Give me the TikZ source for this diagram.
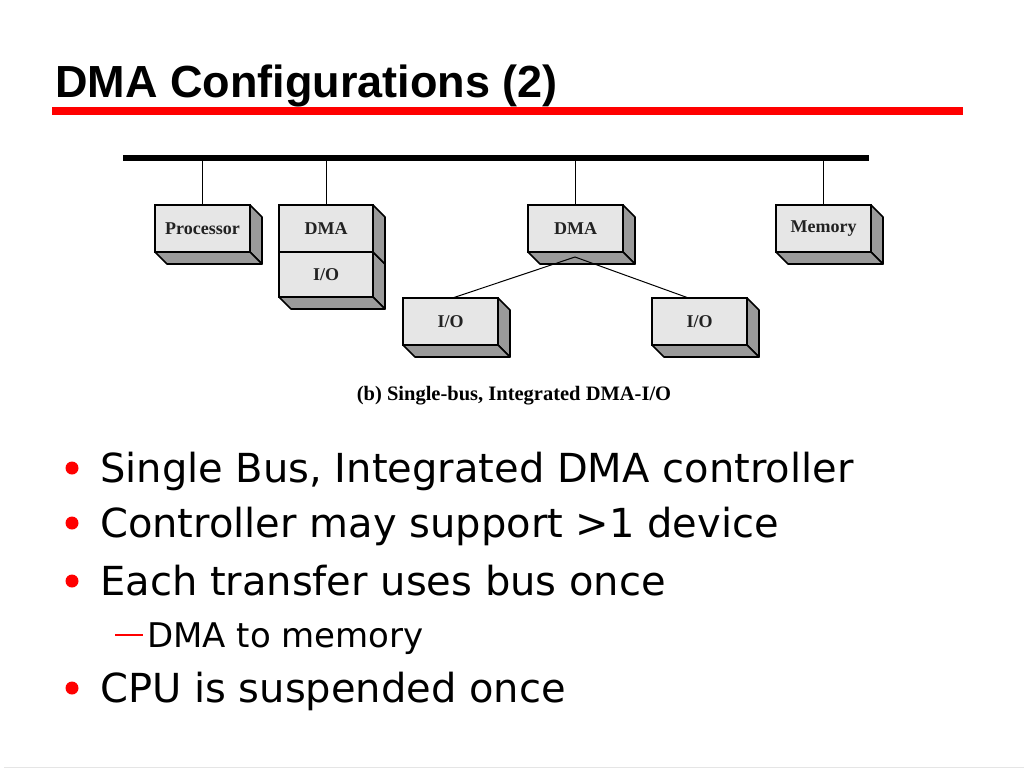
\documentclass[tikz,border=0pt]{standalone}
\usepackage{fontspec}
\setmainfont{DejaVu Sans}
\newfontfamily\titlefont{Liberation Sans}
\newfontfamily\timesf{Liberation Serif}
\usetikzlibrary{calc}
\definecolor{frontgray}{HTML}{E6E6E6}
\definecolor{sidegray}{HTML}{9A9A9A}
\definecolor{slidered}{HTML}{FF0000}
\definecolor{labelgray}{HTML}{222222}
\tikzset{
  box3d/.style={draw=black,line width=1.6pt,fill=frontgray,outer sep=0pt,inner sep=0pt,
    minimum width=95pt,minimum height=47pt,text=labelgray,font=\timesf\bfseries\fontsize{18}{21}\selectfont},
  face/.style={fill=sidegray,draw=black,line width=1.6pt,line join=round},
  wire/.style={line width=1pt,black},
  bullettext/.style={anchor=base west,inner sep=0pt,font=\fontsize{40}{48}\selectfont},
  subtext/.style={anchor=base west,inner sep=0pt,font=\fontsize{34}{40}\selectfont},
}
\newcommand{\sideface}[1]{\path[face] (#1.north east) -- ++(12,12) -- ($(#1.south east)+(12,12)$) -- (#1.south east) -- cycle;}
\newcommand{\bottomface}[1]{\path[face] (#1.south west) -- (#1.south east) -- ++(12,12) -- ($(#1.south west)+(12,12)$) -- cycle;}
\begin{document}
\begin{tikzpicture}[x=1pt,y=-1pt]
\useasboundingbox (0,0) rectangle (1024,768);
% title
\node[anchor=base west,inner sep=0pt,font=\titlefont\bfseries\fontsize{45}{52}\selectfont] (title) at (55,97) {DMA Configurations (2)};
\fill[slidered] (52,107) rectangle (963,115);
% bus
\coordinate (busL) at (123,158);
\coordinate (busR) at (869,158);
\draw[line width=6pt] (busL) -- (busR);
% boxes
\node[box3d,minimum width=95pt] (proc) at (202.5,228.5) {Processor};
\node[box3d,minimum width=94pt] (dmaA) at (326,228.5) {DMA};
\node[box3d,minimum width=94pt,minimum height=45pt] (ioA) at (326,274.5) {I/O};
\node[box3d] (dmaB) at (575.5,228.5) {DMA};
\node[box3d] (mem) at (823.5,228.5) {Memory};
\node[box3d] (ioB) at (450.5,321.5) {I/O};
\node[box3d] (ioC) at (699.5,321.5) {I/O};
\foreach \n in {proc,dmaB,mem,ioB,ioC,ioA}{\sideface{\n}\bottomface{\n}}
\sideface{dmaA}
% bus taps
\foreach \n in {proc,dmaA,dmaB,mem}{\draw[wire] (\n.north |- busL) -- (\n.north);}
% fan out
\coordinate (apex) at (575,257);
\draw[wire] (apex) -- ($(ioB.north)+(2,0)$);
\draw[wire] (apex) -- ($(ioC.north)+(-11,0)$);
% caption
\node[inner sep=0pt,font=\timesf\bfseries\fontsize{20.5}{24}\selectfont] (cap) at (514,396) {(b) Single-bus, Integrated DMA-I/O};
% bullets
\foreach \y/\t [count=\i] in {482/{Single Bus, Integrated DMA controller},537/{Controller may support >1 device},595/{Each transfer uses bus once},702/{CPU is suspended once}}{
  \fill[slidered] (72,\y-14) circle (6.5);
  \node[bullettext] (b\i) at (100,\y) {\t};
}
\draw[slidered,line width=2.5pt] (115,635) -- (143,635);
\node[subtext] (s1) at (147,647) {DMA to memory};
\draw[black!10,line width=1pt] (4,767) -- (1024,767);
\end{tikzpicture}
\end{document}
